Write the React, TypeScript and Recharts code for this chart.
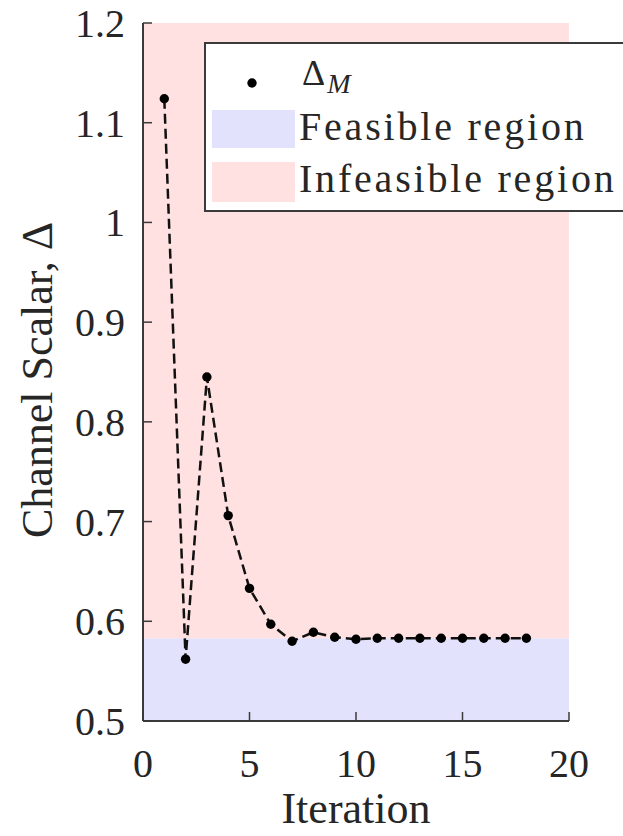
import {
  ComposedChart, Line, XAxis, YAxis, ReferenceArea, Legend
} from 'recharts'

const iterations = [1, 2, 3, 4, 5, 6, 7, 8, 9, 10, 11, 12, 13, 14, 15, 16, 17, 18]
const deltaM = [
  1.124, 0.562, 0.845, 0.706, 0.633, 0.597, 0.58, 0.589, 0.584,
  0.582, 0.583, 0.583, 0.583, 0.583, 0.583, 0.583, 0.583, 0.583,
]
const xTicks = [0, 5, 10, 15, 20]
const yTicks = [0.5, 0.6, 0.7, 0.8, 0.9, 1, 1.1, 1.2]
const feasibleMax = 0.583
const yMin = 0.5
const yMax = 1.2

const data = iterations.map((it, i) => ({ iter: it, delta: deltaM[i] }))

const FONT = '"Liberation Serif", "Times New Roman", Times, "DejaVu Serif", "Noto Serif", serif'
const AXIS_COLOR = '#3a3a3a'
const TEXT_COLOR = '#262626'
const FEASIBLE = '#e2e2fc'
const INFEASIBLE = '#ffe1e1'
const TICK_LEN = 9

const txt = (size: number) => ({ fontSize: size, fill: TEXT_COLOR, fontFamily: FONT })

const BottomTick = ({ x, y, payload }: any) => (
  <g>
    <line x1={x} x2={x} y1={y} y2={y - TICK_LEN} stroke={AXIS_COLOR} strokeWidth={1.5} />
    <text x={x} y={y + 56} textAnchor="middle" {...txt(40)}>
      {payload.value}
    </text>
  </g>
)

const LeftTick = ({ x, y, payload }: any) => (
  <g>
    <line x1={x} x2={x + TICK_LEN} y1={y} y2={y} stroke={AXIS_COLOR} strokeWidth={1.5} />
    <text x={x - 18} y={y + 14} textAnchor="end" {...txt(40)}>
      {payload.value}
    </text>
  </g>
)

const TopTick = ({ x, y }: any) => (
  <line x1={x} x2={x} y1={y} y2={y + TICK_LEN} stroke={AXIS_COLOR} strokeWidth={1.5} />
)

const RightTick = ({ x, y }: any) => (
  <line x1={x} x2={x - TICK_LEN} y1={y} y2={y} stroke={AXIS_COLOR} strokeWidth={1.5} />
)

const legendText = {
  fontSize: 40,
  fill: TEXT_COLOR,
  fontFamily: FONT,
  letterSpacing: 2.8,
}

// matlab-style boxed legend, runs off the right edge like the original
const LegendBox = () => (
  <svg width={440} height={170} style={{ display: 'block' }}>
    <rect x={1} y={1} width={438} height={168} fill="white" stroke={AXIS_COLOR} strokeWidth={2} />
    <circle cx={48} cy={41} r={4.7} fill="#000" />
    <text x={98} y={43} {...txt(36)}>
      Δ
      <tspan fontSize={28} fontStyle="italic" dx={2} dy={8}>M</tspan>
    </text>
    <rect x={8} y={68} width={83} height={38} fill={FEASIBLE} />
    <text x={95} y={98} {...legendText}>Feasible region</text>
    <rect x={8} y={120} width={83} height={40} fill={INFEASIBLE} />
    <text x={95} y={150} {...legendText}>Infeasible region</text>
  </svg>
)

export default function App() {
  return (
    <div style={{ position: 'absolute', left: 0, top: 0, width: 623, height: 836, overflow: 'hidden', background: 'white', fontFamily: FONT }}>
      <ComposedChart
        width={623}
        height={836}
        data={data}
        margin={{ top: 23, right: 54, bottom: 0, left: 0 }}
      >
        <XAxis
          type="number"
          dataKey="iter"
          domain={[0, 20]}
          ticks={xTicks}
          height={115}
          tickSize={0}
          tickMargin={0}
          tickLine={false}
          tick={<BottomTick />}
          axisLine={{ stroke: AXIS_COLOR, strokeWidth: 2 }}
          label={({ viewBox }: any) => (
            <text
              x={viewBox.x + viewBox.width / 2}
              y={viewBox.y + 102}
              textAnchor="middle"
              {...txt(44)}
            >
              Iteration
            </text>
          )}
        />
        <XAxis
          xAxisId="top"
          orientation="top"
          type="number"
          dataKey="iter"
          domain={[0, 20]}
          ticks={xTicks}
          height={0}
          tickSize={0}
          tickMargin={0}
          tickLine={false}
          tick={<TopTick />}
          axisLine={{ stroke: AXIS_COLOR, strokeWidth: 2 }}
        />
        <YAxis
          type="number"
          domain={[yMin, yMax]}
          ticks={yTicks}
          width={143}
          tickSize={0}
          tickMargin={0}
          tickLine={false}
          tick={<LeftTick />}
          axisLine={{ stroke: AXIS_COLOR, strokeWidth: 2 }}
          label={({ viewBox }: any) => {
            const cx = viewBox.x + 52
            const cy = viewBox.y + viewBox.height / 2 + 8
            return (
              <text
                x={cx}
                y={cy}
                transform={`rotate(-90, ${cx}, ${cy})`}
                textAnchor="middle"
                {...txt(44)}
              >
                Channel Scalar, Δ
              </text>
            )
          }}
        />
        <YAxis
          yAxisId="right"
          orientation="right"
          type="number"
          domain={[yMin, yMax]}
          ticks={yTicks}
          width={0}
          tickSize={0}
          tickMargin={0}
          tickLine={false}
          tick={<RightTick />}
          axisLine={{ stroke: AXIS_COLOR, strokeWidth: 2 }}
        />
        <ReferenceArea y1={yMin} y2={feasibleMax} fill={FEASIBLE} fillOpacity={1} stroke="none" />
        <ReferenceArea y1={feasibleMax} y2={yMax} fill={INFEASIBLE} fillOpacity={1} stroke="none" />
        <Line
          type="linear"
          dataKey="delta"
          stroke="#111"
          strokeWidth={2.5}
          strokeDasharray="10 5"
          dot={{ r: 4.7, fill: '#000', stroke: 'none' }}
          isAnimationActive={false}
        />
        <Legend
          layout="horizontal"
          verticalAlign="middle"
          content={() => <LegendBox />}
          wrapperStyle={{ left: 204, top: 42, width: 440, height: 170 }}
        />
      </ComposedChart>
    </div>
  )
}
